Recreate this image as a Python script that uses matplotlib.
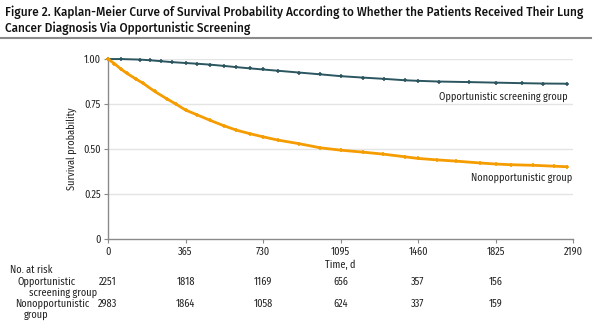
import matplotlib
matplotlib.use("Agg")
import matplotlib.pyplot as plt
from matplotlib import font_manager

opp_t = [0, 60, 150, 200, 250, 300, 365, 420, 480, 545, 605, 670, 730, 800, 900,
         1000, 1095, 1200, 1300, 1400, 1460, 1560, 1700, 1825, 1950, 2050, 2160]
opp_s = [1.0, 1.0, 0.997, 0.993, 0.988, 0.983, 0.978, 0.974, 0.969, 0.962, 0.955,
         0.948, 0.942, 0.935, 0.925, 0.915, 0.905, 0.897, 0.890, 0.882, 0.879,
         0.875, 0.872, 0.869, 0.866, 0.864, 0.863]

non_t = [0, 30, 60, 90, 130, 166, 220, 276, 320, 365, 420, 480, 545, 605, 670, 730,
         800, 900, 1000, 1095, 1200, 1296, 1400, 1460, 1550, 1640, 1750, 1825, 1900,
         2002, 2100, 2160]
non_s = [1.0, 0.975, 0.945, 0.92, 0.89, 0.865, 0.82, 0.78, 0.75, 0.717, 0.69, 0.66,
         0.63, 0.605, 0.585, 0.568, 0.55, 0.53, 0.507, 0.494, 0.483, 0.472, 0.457,
         0.448, 0.44, 0.433, 0.423, 0.417, 0.413, 0.41, 0.405, 0.402]

risk_times = [0, 365, 730, 1095, 1460, 1825]
risk_opp = [2251, 1818, 1169, 656, 357, 156]
risk_non = [2983, 1864, 1058, 624, 337, 159]

x_ticks = [0, 365, 730, 1095, 1460, 1825, 2190]
y_ticks = [0, 0.25, 0.50, 0.75, 1.00]
y_tick_labels = ["0", "0.25", "0.50", "0.75", "1.00"]

title_1 = "Figure 2. Kaplan-Meier Curve of Survival Probability According to Whether the Patients Received Their Lung"
title_2 = "Cancer Diagnosis Via Opportunistic Screening"

teal = "#2b5660"
orange = "#f59c00"
ink = "#222222"
fs = 7.4

names = {f.name for f in font_manager.fontManager.ttflist}

def pick(cands):
    for c in cands:
        if c in names:
            return c
    return "DejaVu Sans"

fam = pick(["Fira Sans Condensed", "Roboto Condensed", "Asap Condensed", "Barlow Semi Condensed"])
title_fam = pick(["Fira Sans Semi Condensed", "Fira Sans", "Barlow Semi Condensed", "Roboto"])
plt.rcParams["font.family"] = [fam, "DejaVu Sans"]

fig = plt.figure(figsize=(6, 3.28), dpi=100)
ax = fig.add_axes([0.18, 0.271, 0.775, 0.549])

ax.plot(opp_t, opp_s, color=teal, lw=1.4, marker="+", ms=3, mew=1.1, clip_on=False, zorder=3)
ax.plot(non_t, non_s, color=orange, lw=2.0, marker="+", ms=3, mew=1.1, clip_on=False, zorder=3)

ax.set_xlim(0, 2190)
ax.set_ylim(0, 1.0)
ax.set_xticks(x_ticks)
ax.set_yticks(y_ticks)
ax.set_yticklabels(y_tick_labels)
for yv in y_ticks[1:]:
    ax.axhline(yv, color="#e4e4e4", lw=1.0, zorder=0)
for s in ["top", "right"]:
    ax.spines[s].set_visible(False)
for s in ["left", "bottom"]:
    ax.spines[s].set_color("#8a8a8a")
    ax.spines[s].set_linewidth(1.0)
ax.tick_params(axis="both", colors="#8a8a8a", labelcolor=ink, labelsize=fs,
               length=3, width=0.8, pad=2)
ax.set_ylabel("Survival probability", fontsize=fs, color=ink, labelpad=5)
ax.set_xlabel("Time, d", fontsize=fs, color=ink, labelpad=2)

ax.text(2165, 0.79, "Opportunistic screening group", ha="right", va="center",
        fontsize=fs, color=ink)
ax.text(2185, 0.34, "Nonopportunistic group", ha="right", va="center",
        fontsize=fs, color=ink)

# title and rule
t1 = fig.text(0.008, 1 - 12 / 328, title_1, fontsize=10.5, color="#111111", va="center",
              family=[title_fam, "DejaVu Sans"], fontweight="medium")
t2 = fig.text(0.008, 1 - 28 / 328, title_2, fontsize=10.5, color="#111111", va="center",
              family=[title_fam, "DejaVu Sans"], fontweight="medium")
fig.canvas.draw()
scale = 578.0 / t1.get_window_extent().width
t1.set_fontsize(10.5 * scale)
t2.set_fontsize(10.5 * scale)
fig.add_artist(plt.Line2D([0.0, 0.985], [1 - 38 / 328] * 2, color="#8a8a8a", lw=1.5,
                          transform=fig.transFigure))

# number at risk table
def fy(py):
    return 1 - py / 328.0

fig.text(10 / 600, fy(270), "No. at risk", fontsize=fs, va="center", color=ink)
fig.text(17 / 600, fy(282), "Opportunistic", fontsize=fs, va="center", color=ink)
fig.text(29 / 600, fy(293), "screening group", fontsize=fs, va="center", color=ink)
fig.text(15 / 600, fy(304), "Nonopportunistic", fontsize=fs, va="center", color=ink)
fig.text(24 / 600, fy(315), "group", fontsize=fs, va="center", color=ink)
for t, a, b in zip(risk_times, risk_opp, risk_non):
    xf = ax.transData.transform((t, 0))[0] / fig.bbox.width
    fig.text(xf, fy(282), str(a), fontsize=fs, ha="center", va="center", color=ink)
    fig.text(xf, fy(304), str(b), fontsize=fs, ha="center", va="center", color=ink)

fig.savefig("out.png", dpi=100)
